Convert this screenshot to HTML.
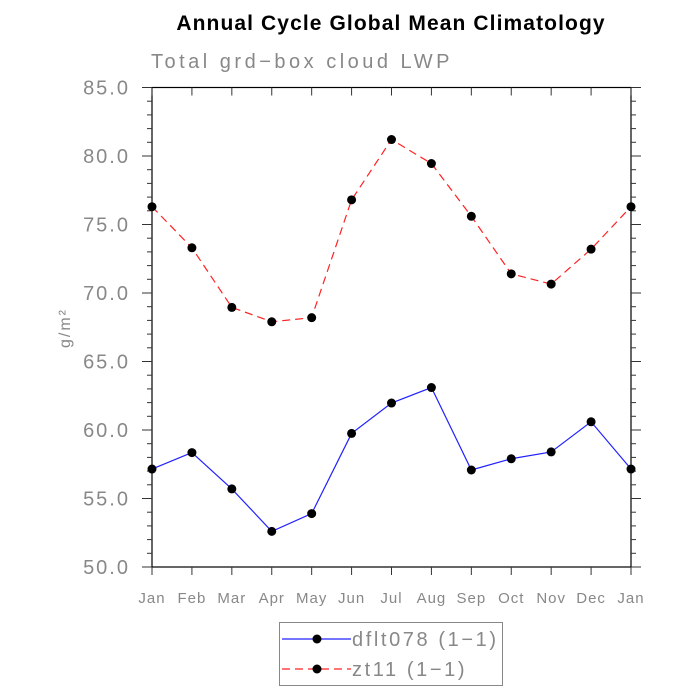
<!DOCTYPE html>
<html><head><meta charset="utf-8"><style>
html,body{margin:0;padding:0;background:#fff;}
svg{display:block;font-family:"Liberation Sans",sans-serif;}
</style></head><body>
<svg id="chart" width="700" height="700" viewBox="0 0 700 700">
<text x="391" y="30" text-anchor="middle" font-size="21" font-weight="bold" fill="#000" letter-spacing="1.1">Annual Cycle Global Mean Climatology</text>
<text x="151" y="68" font-size="20" fill="#888" letter-spacing="3.5">Total grd−box cloud LWP</text>
<text transform="translate(70,328) rotate(-90)" text-anchor="middle" font-size="16" fill="#888" letter-spacing="2">g/m²</text>
<g id="axes"></g>
<g id="series"></g>
<g>
<rect x="279.5" y="622.5" width="223" height="63" fill="none" stroke="#888"/>
<g>
<line x1="282" y1="639" x2="351" y2="639" stroke="#2222ff" stroke-width="1.2"/>
<circle cx="317" cy="639" r="4.5" fill="#000"/>
<text x="352" y="646" font-size="20" fill="#888" letter-spacing="2.6">dflt078 (1−1)</text>
</g>
<g>
<line x1="282" y1="669" x2="351" y2="669" stroke="#ff2222" stroke-width="1.2" stroke-dasharray="8,5"/>
<circle cx="317" cy="669" r="4.5" fill="#000"/>
<text x="352" y="676" font-size="20" fill="#888" letter-spacing="2.6">zt11 (1−1)</text>
</g>
</g>
</svg>
<script>
const months = ["Jan","Feb","Mar","Apr","May","Jun","Jul","Aug","Sep","Oct","Nov","Dec","Jan"];
const dflt078 = [57.15,58.35,55.7,52.6,53.9,59.75,61.97,63.1,57.08,57.9,58.4,60.6,57.15];
const zt11 = [76.3,73.3,68.95,67.9,68.2,76.8,81.2,79.45,75.6,71.4,70.65,73.2,76.3];
const yTicks = [50,55,60,65,70,75,80,85];
const yTickLabels = ["50.0","55.0","60.0","65.0","70.0","75.0","80.0","85.0"];

const NS = "http://www.w3.org/2000/svg";
const X0 = 152, X1 = 631, Y0 = 567, Y1 = 87.5, YMIN = 50, YMAX = 85;
function xs(i){ return X0 + (X1 - X0) * i / (months.length - 1); }
function ys(v){ return Y0 - (Y0 - Y1) * (v - YMIN) / (YMAX - YMIN); }
function mk(tag, attrs, parent){ const e = document.createElementNS(NS, tag); for (const k in attrs) e.setAttribute(k, attrs[k]); parent.appendChild(e); return e; }

const axes = document.getElementById('axes');
const frame = mk('rect', {x:X0, y:Y1, width:X1-X0, height:Y0-Y1, fill:'none', stroke:'#000', 'stroke-width':1.2}, axes);


for (let v = YMIN; v <= YMAX; v += 1) {
  const y = ys(v), major = (v % 5 === 0);
  const len = major ? 10 : 5;
  const t1 = mk('line', {x1:X0-len, y1:y, x2:X0, y2:y, stroke:'#333', 'stroke-width':1}, axes);
  
  
  const t2 = mk('line', {x1:X1, y1:y, x2:X1+len, y2:y, stroke:'#333', 'stroke-width':1}, axes);
  
  
}
yTicks.forEach((v, i) => {
  const t = mk('text', {x:X0-22, y:ys(v)+7, 'text-anchor':'end', 'font-size':20, fill:'#888', 'letter-spacing':2}, axes);
  t.textContent = yTickLabels[i];
  
  
});
months.forEach((m, i) => {
  const x = xs(i);
  const b = mk('line', {x1:x, y1:Y0, x2:x, y2:Y0+8, stroke:'#333', 'stroke-width':1}, axes);
  
  
  const tp = mk('line', {x1:x, y1:Y1, x2:x, y2:Y1+8, stroke:'#333', 'stroke-width':1}, axes);
  
  
  const t = mk('text', {x:x, y:Y0+36, 'text-anchor':'middle', 'font-size':15, fill:'#888', 'letter-spacing':1}, axes);
  t.textContent = m;
  
  
});

const series = document.getElementById('series');
function drawSeries(vals, color, dash, name){
  const g = mk('g', {}, series);
  
  
  const pts = vals.map((v, i) => xs(i) + ',' + ys(v)).join(' ');
  const pl = mk('polyline', {points:pts, fill:'none', stroke:color, 'stroke-width':1.2}, g);
  if (dash) pl.setAttribute('stroke-dasharray', dash);
  
  
  vals.forEach((v, i) => {
    const c = mk('circle', {cx:xs(i), cy:ys(v), r:4.5, fill:'#000'}, g);
    
    
  });
}
drawSeries(zt11, '#ff2222', '8,5', 'series-zt11');
drawSeries(dflt078, '#2222ff', null, 'series-dflt078');
</script>
</body></html>
